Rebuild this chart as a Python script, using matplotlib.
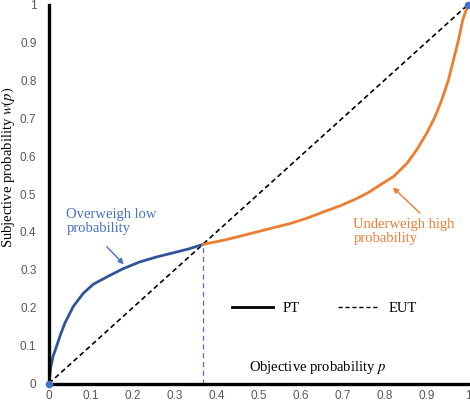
import matplotlib
matplotlib.use("Agg")
import matplotlib.pyplot as plt
from matplotlib.lines import Line2D

# values
low_p = [0, 0.004, 0.010, 0.018, 0.028, 0.038, 0.058, 0.082, 0.106, 0.138, 0.177,
         0.217, 0.257, 0.297, 0.333, 0.367]
low_w = [0, 0.040, 0.072, 0.097, 0.130, 0.159, 0.203, 0.238, 0.262, 0.281, 0.303,
         0.321, 0.334, 0.345, 0.355, 0.367]

high_p = [0.367, 0.416, 0.450, 0.496, 0.535, 0.575, 0.615, 0.655, 0.695, 0.734, 0.762,
          0.790, 0.822, 0.854, 0.877, 0.901, 0.921, 0.937, 0.953, 0.965, 0.977,
          0.987, 1.0]
high_w = [0.367, 0.378, 0.387, 0.400, 0.411, 0.422, 0.436, 0.453, 0.469, 0.488, 0.504,
          0.524, 0.546, 0.581, 0.616, 0.660, 0.704, 0.748, 0.801, 0.854, 0.906,
          0.959, 1.0]

eut_p = [0, 1]
eut_w = [0, 1]

ticks = [0, 0.1, 0.2, 0.3, 0.4, 0.5, 0.6, 0.7, 0.8, 0.9, 1]
tick_labels = ["0", "0.1", "0.2", "0.3", "0.4", "0.5", "0.6", "0.7", "0.8", "0.9", "1"]

BLUE = "#2f5597"
LIGHT_BLUE = "#4472c4"
ORANGE = "#ed7d31"
SERIF = "Liberation Serif"

plt.rcParams["mathtext.fontset"] = "stix"

fig = plt.figure(figsize=(4.7, 4.04), dpi=100)
ax = fig.add_axes([0.104, 0.0507, 0.892, 0.938])

ax.plot(eut_p, eut_w, color="black", lw=1.2, ls=(0, (3, 2)), zorder=2)
ax.plot(low_p, low_w, color=BLUE, lw=2, solid_capstyle="round",
        solid_joinstyle="round", zorder=3)
ax.plot(high_p, high_w, color=ORANGE, lw=2, solid_capstyle="round",
        solid_joinstyle="round", zorder=3)
ax.plot([low_p[-1], low_p[-1]], [0, low_w[-1]], color=LIGHT_BLUE, lw=0.9,
        ls=(0, (4, 3)), zorder=2)
ax.plot([low_p[0], high_p[-1]], [low_w[0], high_w[-1]], ls="none", marker="o",
        ms=4.5, color=LIGHT_BLUE, zorder=5, clip_on=False)

ax.set_xlim(0, 1)
ax.set_ylim(0, 1)
ax.set_xticks(ticks, labels=tick_labels)
ax.set_yticks(ticks, labels=tick_labels)
ax.tick_params(length=0, labelsize=8.5, labelcolor="#595959")
ax.tick_params(axis="x", pad=5)
ax.tick_params(axis="y", pad=9)
for lab in ax.get_xticklabels() + ax.get_yticklabels():
    lab.set_family("Liberation Sans")

for side in ["top", "right"]:
    ax.spines[side].set_visible(False)
for side in ["left", "bottom"]:
    ax.spines[side].set_linewidth(2.4)
    ax.spines[side].set_color("black")
    ax.spines[side].set_zorder(4)

ax.set_ylabel("Subjective probability $w(p)$", family=SERIF, fontsize=10.5)
ax.yaxis.set_label_coords(-0.076, 0.57)
ax.text(0.64, 0.041, "Objective probability $p$", transform=ax.transAxes,
        ha="center", va="center", family=SERIF, fontsize=10.5)

ax.text(0.042, 0.463, "Overweigh low\nprobability", ha="left", va="top",
        color=LIGHT_BLUE, family=SERIF, fontsize=10.5, linespacing=1.1)
ax.annotate("", xy=(0.181, 0.312), xytext=(0.138, 0.361),
            arrowprops=dict(arrowstyle="-|>", color=LIGHT_BLUE, lw=1,
                            mutation_scale=8, shrinkA=0, shrinkB=1))

ax.text(0.726, 0.437, "Underweigh high\nprobability", ha="left", va="top",
        color=ORANGE, family=SERIF, fontsize=10.5, linespacing=1.1)
ax.annotate("", xy=(0.818, 0.520), xytext=(0.885, 0.450),
            arrowprops=dict(arrowstyle="-|>", color=ORANGE, lw=1,
                            mutation_scale=8, shrinkA=0, shrinkB=1))

handles = [Line2D([], [], color="black", lw=2),
           Line2D([], [], color="black", lw=1, ls=(0, (3, 2)))]
ax.legend(handles, ["PT", "EUT"], ncol=2, frameon=False, loc="center",
          bbox_to_anchor=(0.657, 0.197), prop={"family": SERIF, "size": 10.5},
          handlelength=2.8, handletextpad=0.7, columnspacing=2.6)

fig.savefig("out.png", dpi=100)
